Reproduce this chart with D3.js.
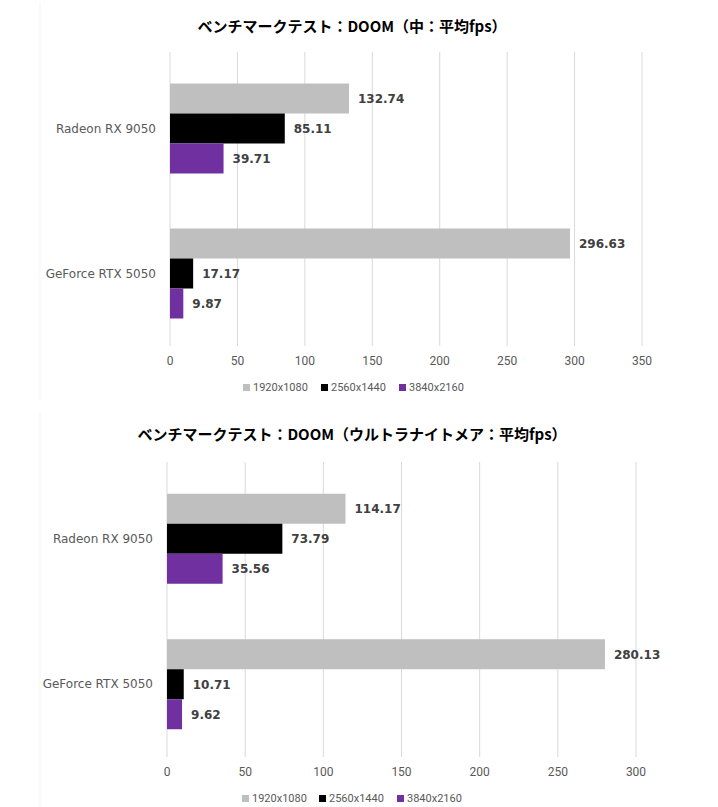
<!DOCTYPE html>
<html lang="ja">
<head>
  <meta charset="utf-8">
  <title>DOOM benchmark</title>
  <script src="https://cdn.jsdelivr.net/npm/d3@7"></script>
  <style>
    body { margin: 0; background: #fff; }
    svg text { font-family: "DejaVu Sans", Verdana, sans-serif; }
    .title { font-family: "Noto Sans CJK JP", sans-serif; font-weight: bold; font-size: 15px; fill: #000; }
    .tick-label { font-family: "Liberation Sans Narrow", "Roboto", sans-serif; font-size: 12px; fill: #595959; }
    .cat-label { font-size: 12px; fill: #595959; }
    .val-label { font-size: 12px; font-weight: bold; fill: #404040; }
    .legend-label { font-family: "Liberation Sans Narrow", "Roboto", sans-serif; font-size: 11px; fill: #595959; }
  </style>
</head>
<body>
<script>
  // data
  const categories = ["Radeon RX 9050", "GeForce RTX 5050"];
  const seriesNames = ["1920x1080", "2560x1440", "3840x2160"];
  const seriesColors = ["#bfbfbf", "#000000", "#7030a0"];

  const titleMedium = "ベンチマークテスト：DOOM（中：平均fps）";
  const mediumValues = [
    [132.74, 85.11, 39.71],   // Radeon RX 9050
    [296.63, 17.17, 9.87]     // GeForce RTX 5050
  ];
  const mediumTicks = [0, 50, 100, 150, 200, 250, 300, 350];

  const titleNightmare = "ベンチマークテスト：DOOM（ウルトラナイトメア：平均fps）";
  const nightmareValues = [
    [114.17, 73.79, 35.56],
    [280.13, 10.71, 9.62]
  ];
  const nightmareTicks = [0, 50, 100, 150, 200, 250, 300];

  const W = 718, H = 807;

  const svg = d3.select("body").append("svg")
    .attr("width", W)
    .attr("height", H);

  function drawChart(opt) {
    const g = svg.append("g");

    // faint chart-area border on the left
    g.append("line")
      .attr("x1", 40).attr("x2", 40)
      .attr("y1", opt.top - 50).attr("y2", opt.bottom + 55)
      .attr("stroke", "#f3f3f3");

    g.append("text")
      .attr("class", "title")
      .attr("x", 352)
      .attr("y", opt.titleY)
      .attr("text-anchor", "middle")
      .text(opt.title);

    const x = d3.scaleLinear()
      .domain([0, d3.max(opt.ticks)])
      .range([opt.left, opt.right]);

    const y0 = d3.scaleBand()
      .domain(categories)
      .range([opt.barTop, opt.bottom]);

    const y1 = d3.scaleBand()
      .domain(seriesNames)
      .range([0, y0.bandwidth()])
      .paddingOuter(opt.outer);

    // gridlines
    g.selectAll("line.grid")
      .data(opt.ticks)
      .enter().append("line")
      .attr("class", "grid")
      .attr("x1", d => x(d)).attr("x2", d => x(d))
      .attr("y1", opt.top).attr("y2", opt.bottom)
      .attr("stroke", "#d9d9d9");

    // tick labels
    g.selectAll("text.tick-label")
      .data(opt.ticks)
      .enter().append("text")
      .attr("class", "tick-label")
      .attr("x", d => x(d))
      .attr("y", opt.bottom + 19)
      .attr("text-anchor", "middle")
      .text(d => d);

    // category labels
    g.selectAll("text.cat-label")
      .data(categories)
      .enter().append("text")
      .attr("class", "cat-label")
      .attr("x", opt.left - 14)
      .attr("y", d => y0(d) + y0.bandwidth() / 2)
      .attr("dy", "0.35em")
      .attr("text-anchor", "end")
      .text(d => d);

    const groups = g.selectAll("g.cat")
      .data(categories)
      .enter().append("g")
      .attr("transform", d => "translate(0," + y0(d) + ")");

    groups.each(function (c, ci) {
      const rows = opt.values[ci].map((v, si) => ({ s: seriesNames[si], v: v, color: seriesColors[si] }));
      const gg = d3.select(this);
      gg.selectAll("rect")
        .data(rows)
        .enter().append("rect")
        .attr("x", x(0))
        .attr("y", d => y1(d.s))
        .attr("width", d => x(d.v) - x(0))
        .attr("height", y1.bandwidth())
        .attr("fill", d => d.color);
      gg.selectAll("text")
        .data(rows)
        .enter().append("text")
        .attr("class", "val-label")
        .attr("x", d => x(d.v) + 9)
        .attr("y", d => y1(d.s) + y1.bandwidth() / 2)
        .attr("dy", "0.38em")
        .text(d => d.v.toFixed(2));
    });

    // legend
    const lg = g.append("g")
      .attr("transform", "translate(0," + opt.legendY + ")");
    const items = lg.selectAll("g")
      .data(seriesNames)
      .enter().append("g")
      .attr("transform", (d, i) => "translate(" + opt.legendX[i] + ",0)");
    items.append("rect")
      .attr("x", 0).attr("y", -7)
      .attr("width", 7).attr("height", 7)
      .attr("fill", (d, i) => seriesColors[i]);
    items.append("text")
      .attr("class", "legend-label")
      .attr("x", 10).attr("y", 0)
      .text(d => d);
  }

  drawChart({
    title: titleMedium, titleY: 32,
    values: mediumValues, ticks: mediumTicks,
    left: 170, right: 642,
    top: 52, barTop: 56, bottom: 346, outer: 0.917,
    legendY: 391, legendX: [243, 321, 399]
  });

  drawChart({
    title: titleNightmare, titleY: 440,
    values: nightmareValues, ticks: nightmareTicks,
    left: 167, right: 636,
    top: 462, barTop: 466, bottom: 757, outer: 0.925,
    legendY: 802, legendX: [242, 319, 397]
  });
</script>
</body>
</html>
